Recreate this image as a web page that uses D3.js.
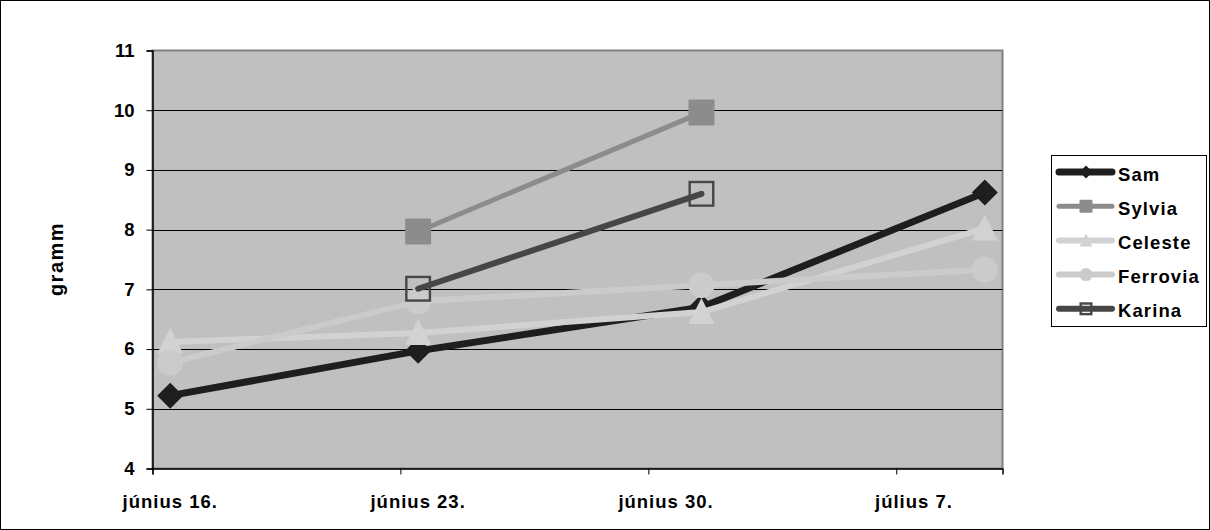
<!DOCTYPE html>
<html><head><meta charset="utf-8">
<script src="https://cdn.jsdelivr.net/npm/d3@7"></script>
<style>body{margin:0;background:#fff}svg{display:block}text{font-family:"Liberation Sans",Arial,sans-serif;font-weight:bold}</style>
</head><body><svg id="c" width="1210" height="530"></svg>
<script>
const dates = ["2000-06-16","2000-06-23","2000-07-01","2000-07-09"];
const seriesNames = ["Sam","Sylvia","Celeste","Ferrovia","Karina"];
const sam = [5.22, 5.97, 6.70, 8.62];
const sylvia = [null, 7.97, 9.96, null];
const celeste = [6.12, 6.27, 6.62, 8.02];
const ferrovia = [5.77, 6.80, 7.07, 7.33];
const karina = [null, 7.01, 8.60, null];
const yTicks = [4,5,6,7,8,9,10,11];
const xTickDates = ["2000-06-16","2000-06-23","2000-06-30","2000-07-07"];
const xTickLabels = ["június 16.","június 23.","június 30.","július 7."];
const xDomain = ["2000-06-16","2000-07-10"];

const styles = {
  Sam:{color:"#1e1e1e", w:7, marker:"diamond"},
  Sylvia:{color:"#8c8c8c", w:5, marker:"square"},
  Celeste:{color:"#d2d2d2", w:6, marker:"triangle"},
  Ferrovia:{color:"#cbcbcb", w:6, marker:"circle"},
  Karina:{color:"#464646", w:6, marker:"hollow"}
};
const values = {Sam:sam, Sylvia:sylvia, Celeste:celeste, Ferrovia:ferrovia, Karina:karina};

const svg = d3.select("#c");
const L=152.5, R=1002.5, T=50.5, B=468.5;
const x = d3.scaleUtc().domain(xDomain.map(d=>new Date(d+"T00:00Z"))).range([L,R]);
const y = d3.scaleLinear().domain([4,11]).range([B,T]);
const half = 12*3600*1000;
const toDate = d => new Date(d+"T00:00Z");
const px = d => x(new Date(toDate(d).getTime()+half));

svg.append("rect").attr("x",0.5).attr("y",0.5).attr("width",1209).attr("height",529).attr("fill","#fff").attr("stroke","#000");
svg.append("rect").attr("x",L).attr("y",T).attr("width",R-L).attr("height",B-T).attr("fill","#c0c0c0").attr("stroke","#808080").attr("stroke-width",2);

// gridlines
svg.append("g").selectAll("line").data(yTicks.filter(t=>t>4&&t<11)).join("line")
  .attr("x1",L).attr("x2",R).attr("y1",d=>Math.round(y(d))+0.5).attr("y2",d=>Math.round(y(d))+0.5)
  .attr("stroke","#000").attr("stroke-width",1);

// y axis
const yAxis = d3.axisLeft(y).tickValues(yTicks).tickSize(6).tickPadding(12).tickFormat(d3.format("d"));
const gy = svg.append("g").attr("transform",`translate(${L},0)`).call(yAxis);
gy.attr("font-size",null).attr("font-family",null);
gy.select(".domain").attr("stroke","#000").attr("stroke-width",1.5);
gy.selectAll("line").attr("stroke","#000");
gy.selectAll("text").attr("font-size",18.5).attr("fill","#000");

// x axis: ticks at dates, labels centred on the middle of each day
const xAxis = d3.axisBottom(x).tickValues(xTickDates.map(toDate)).tickSize(6).tickFormat("");
const gx = svg.append("g").attr("transform",`translate(0,${B})`).call(xAxis);
gx.select(".domain").attr("stroke","#000").attr("stroke-width",1.5);
gx.selectAll("line").attr("stroke","#000");
svg.append("g").selectAll("text").data(xTickDates).join("text")
  .attr("x",d=>px(d)).attr("y",508).attr("text-anchor","middle")
  .attr("font-size",18.5).attr("letter-spacing",1).attr("fill","#000")
  .text((d,i)=>xTickLabels[i]);

svg.append("text").attr("transform","translate(63,259) rotate(-90)").attr("text-anchor","middle")
  .attr("font-size",20).attr("letter-spacing",1.5).attr("fill","#000").text("gramm");

function drawMarker(g, type, cx, cy, s, color){
  if(type==="diamond"){
    g.append("path").attr("d",`M${cx},${cy-s/2}L${cx+s/2},${cy}L${cx},${cy+s/2}L${cx-s/2},${cy}Z`).attr("fill",color);
  } else if(type==="square"){
    g.append("rect").attr("x",cx-s/2).attr("y",cy-s/2).attr("width",s).attr("height",s).attr("rx",1).attr("fill",color);
  } else if(type==="triangle"){
    g.append("path").attr("d",`M${cx},${cy-s*0.54}L${cx+s/2},${cy+s*0.46}L${cx-s/2},${cy+s*0.46}Z`).attr("fill",color);
  } else if(type==="circle"){
    g.append("circle").attr("cx",cx).attr("cy",cy).attr("r",s/2).attr("fill",color);
  } else if(type==="hollow"){
    g.append("rect").attr("x",cx-s/2+1.2).attr("y",cy-s/2+1.2).attr("width",s-2.4).attr("height",s-2.4).attr("fill","none").attr("stroke",color).attr("stroke-width",2.4);
  }
}

const plot = svg.append("g");
seriesNames.forEach(name=>{
  const st = styles[name];
  const pts = dates.map((d,i)=>({d, v:values[name][i]})).filter(p=>p.v!=null);
  const line = d3.line().x(p=>px(p.d)).y(p=>y(p.v));
  const g = plot.append("g");
  g.append("path").datum(pts).attr("d",line).attr("fill","none").attr("stroke",st.color)
    .attr("stroke-width",st.w).attr("stroke-linejoin","round").attr("stroke-linecap","round");
  pts.forEach(p=>drawMarker(g, st.marker, px(p.d), y(p.v), 26, st.color));
});

// legend
const lg = svg.append("g");
lg.append("rect").attr("x",1051.5).attr("y",155.5).attr("width",155).attr("height",171).attr("fill","#fff").attr("stroke","#000");
seriesNames.forEach((name,i)=>{
  const st = styles[name];
  const cy = 172 + i*34.2;
  const g = lg.append("g");
  g.append("line").attr("x1",1059).attr("x2",1112).attr("y1",cy).attr("y2",cy).attr("stroke",st.color).attr("stroke-width",st.w).attr("stroke-linecap","round");
  drawMarker(g, st.marker, 1086, cy, 13, st.color);
  g.append("text").attr("x",1118).attr("y",cy+8.5).attr("font-size",18.5).attr("letter-spacing",1.1).attr("fill","#000").text(name);
});
</script></body></html>
